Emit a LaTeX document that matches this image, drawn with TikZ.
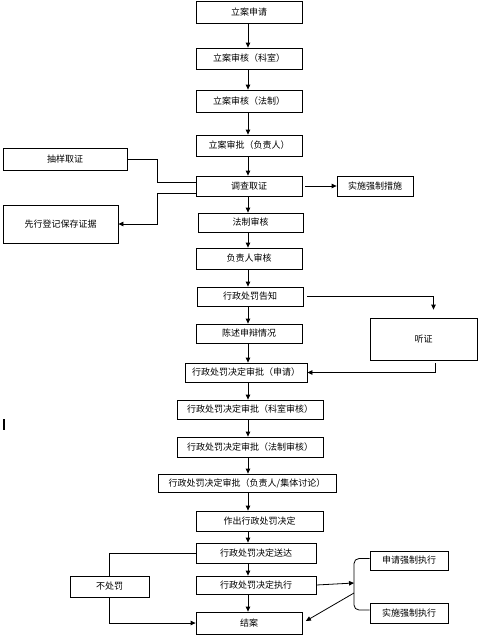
\documentclass[tikz,border=0pt]{standalone}
\usepackage{fontspec}
\setmainfont{Noto Sans CJK SC}
\usetikzlibrary{arrows.meta}
\tikzset{
  box/.style={draw, line width=0.8pt, inner sep=0pt, minimum height=20pt, font=\fontsize{9}{10}\selectfont},
  flow/.style={line width=0.8pt, -{Triangle[length=5pt,width=4.5pt]}},
  link/.style={line width=0.8pt},
}
\begin{document}
\begin{tikzpicture}[x=1pt,y=-1pt]
    \useasboundingbox (0,0) rectangle (484,640);
    \coordinate (axis) at (248,0);
    %% main column
    \node[box, minimum width=106pt, minimum height=22pt] (req)    at (249,12)    {立案申请};
    \node[box, minimum width=106pt, minimum height=21pt] (chkA)   at (249,58.5)  {立案审核（科室）};
    \node[box, minimum width=106pt, minimum height=22pt] (chkB)   at (249,101)   {立案审核（法制）};
    \node[box, minimum width=106pt, minimum height=21pt] (appr)   at (249,145.5) {立案审批（负责人）};
    \node[box, minimum width=106pt, minimum height=20pt] (inv)    at (249,186)   {调查取证};
    \node[box, minimum width=105pt, minimum height=19pt] (legal)  at (250.5,222.5) {法制审核};
    \node[box, minimum width=106pt, minimum height=21pt] (head)   at (249,258.5) {负责人审核};
    \node[box, minimum width=106pt, minimum height=19pt] (notice) at (250,296.5) {行政处罚告知};
    \node[box, minimum width=106pt, minimum height=19pt] (state)  at (249,333.5) {陈述申辩情况};
    \node[box, minimum width=122pt, minimum height=19pt] (decA)   at (246,372.5) {行政处罚决定审批（申请）};
    \node[box, minimum width=146pt, minimum height=19pt] (decB)   at (250,409.5) {行政处罚决定审批（科室审核）};
    \node[box, minimum width=146pt, minimum height=20pt] (decC)   at (250,447)   {行政处罚决定审批（法制审核）};
    \node[box, minimum width=178pt, minimum height=18pt] (decD)   at (247,483)   {行政处罚决定审批（负责人/集体讨论）};
    \node[box, minimum width=127pt, minimum height=20pt] (make)   at (259.5,521) {作出行政处罚决定};
    \node[box, minimum width=120pt, minimum height=20pt] (serve)  at (256,553)   {行政处罚决定送达};
    \node[box, minimum width=120pt, minimum height=18pt] (exec)   at (256,585)   {行政处罚决定执行};
    \node[box, minimum width=106pt, minimum height=22pt] (close)  at (249,623)   {结案};
    %% side boxes
    \node[box, minimum width=124pt, minimum height=22pt] (sample) at (65,159)    {抽样取证};
    \node[box, minimum width=115pt, minimum height=38pt] (keep)   at (60.5,224)  {先行登记保存证据};
    \node[box, minimum width=76pt,  minimum height=20pt] (force)  at (375,186)   {实施强制措施};
    \node[box, minimum width=107pt, minimum height=42pt] (hear)   at (423.5,339) {听证};
    \node[box, minimum width=79pt,  minimum height=21pt] (nopen)  at (109.5,586.5) {不处罚};
    \node[box, minimum width=78pt,  minimum height=19pt] (apply)  at (409,560.5) {申请强制执行};
    \node[box, minimum width=78pt,  minimum height=20pt] (enforce) at (409,613)  {实施强制执行};
    %% main arrows
    \foreach \a/\b in {req/chkA, chkA/chkB, chkB/appr, appr/inv, inv/legal, legal/head,
                       head/notice, notice/state, state/decA, decA/decB, decB/decC,
                       decC/decD, decD/make, make/serve, serve/exec, exec/close}
        \draw[flow] (\a.south -| axis) -- (\b.north -| axis);
    %% evidence
    \draw[link] (sample.east) -| (157,182) -- ([yshift=4pt]inv.west);
    \draw[flow] ([yshift=-7pt]inv.west) -| (157,224) -- (keep.east);
    \draw[flow, shorten <=3pt] (inv.east) -- (force.west);
    %% hearing
    \draw[flow, shorten <=4pt, shorten >=8pt] (notice.east) -| ([xshift=10pt]hear.north);
    \draw[flow, shorten <=3pt] ([xshift=11.5pt]hear.south) |- (decA.east);
    %% no penalty
    \draw[link] (serve.west) -| (nopen.north);
    \draw[flow] (nopen.south) |- (close.west);
    %% enforcement
    \coordinate (tip) at (354,583);
    \coordinate (fork) at (354,593);
    \draw[link, rounded corners=5pt] ([yshift=2pt]apply.west) -| (tip) |- ([yshift=3pt]enforce.west);
    \draw[flow] (exec.east) -- (tip);
    \draw[flow, shorten >=4pt] (fork) -- (close.east);
    %% mark
    \draw[line width=2pt] (4,419) -- (4,430);
\end{tikzpicture}
\end{document}
